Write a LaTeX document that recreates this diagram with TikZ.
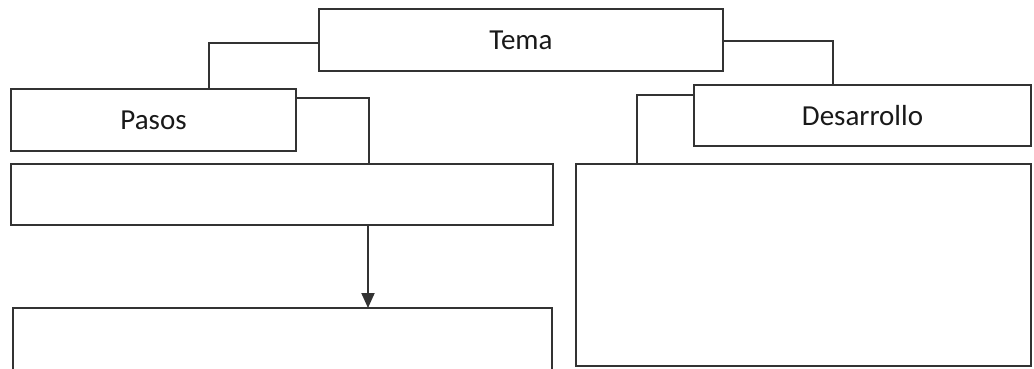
\documentclass[tikz,border=0pt]{standalone}
\usepackage{fontspec}
\setmainfont{Carlito}
\usepackage{tikz}
\usetikzlibrary{calc,positioning,arrows.meta}

\definecolor{inkgray}{HTML}{333333}

\begin{document}
\begin{tikzpicture}[x=1pt, y=-1pt,
    box/.style={draw=inkgray, line width=2pt, rectangle, inner sep=0pt,
      outer sep=0pt, anchor=north west, text=black!90,
      font=\fontsize{29}{34}\selectfont},
    link/.style={draw=inkgray, line width=2pt}]
  \useasboundingbox (0,0) rectangle (1034,368);
  \clip (0,0) rectangle (1034,368);

  \node[box, minimum width=404pt, minimum height=62pt] (tema) at (319,9) {Tema};
  \node[box, minimum width=285pt, minimum height=62pt] (pasos) at (11,89) {Pasos};
  \node[box, minimum width=337pt, minimum height=61pt] (desarrollo) at (694,85) {Desarrollo};

  \node[box, minimum width=542pt, minimum height=61pt] (lista) at (11,164) {};
  \node[box, minimum width=539pt, minimum height=90pt] (resultado) at (13,308) {};
  \node[box, minimum width=455pt, minimum height=202pt] (detalle) at (576,164) {};

  \draw[link] ([yshift=-3pt]tema.west) -| ([xshift=55pt]pasos.north);
  \draw[link] ([yshift=-1pt]tema.east) -| ([xshift=-30pt]desarrollo.north);
  \draw[link] ([yshift=-9pt]pasos.north east) -| ([xshift=87pt]lista.north);
  \draw[link] ([yshift=-10pt]desarrollo.north west) -| ([xshift=61pt]detalle.north west);
  \draw[link, -{Triangle[width=13pt,length=15pt]}]
    ([xshift=86pt]lista.south) -- ([xshift=86pt]lista.south |- resultado.north);
\end{tikzpicture}
\end{document}
